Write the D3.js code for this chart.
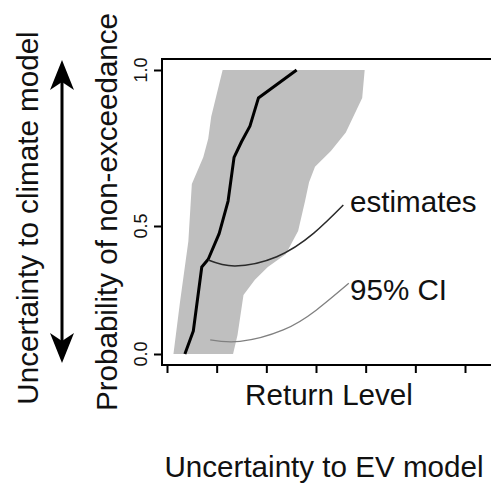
<!DOCTYPE html>
<html>
<head>
<meta charset="utf-8">
<script src="https://cdn.jsdelivr.net/npm/d3@7"></script>
<style>
  html, body { margin: 0; padding: 0; background: #fff; }
  svg { display: block; }
  text { font-family: "Liberation Sans", Arial, Helvetica, sans-serif; fill: #111; }
</style>
</head>
<body>
<svg id="chart" width="491" height="488"></svg>
<script>
// Return level (axis units) and probability of non-exceedance for the central estimate
const estLevel = [0.36, 0.53, 0.70, 0.83, 1.05, 1.23, 1.35, 1.50, 1.67, 1.84, 2.61];
const estProb  = [0.00, 0.09, 0.34, 0.37, 0.47, 0.58, 0.72, 0.77, 0.82, 0.91, 1.00];

// 95% confidence band: lower and upper bounds, each with its own probability levels
const lowLevel = [0.13, 0.26, 0.43, 0.50, 0.73, 0.83, 0.89, 1.12];
const lowProb  = [0.00, 0.20, 0.44, 0.635, 0.72, 0.78, 0.85, 1.00];
const upLevel  = [1.33, 1.42, 1.54, 1.77, 2.03, 2.39, 2.64, 2.78, 2.86, 2.98, 3.30, 3.60, 3.93, 3.98];
const upProb   = [0.00, 0.074, 0.23, 0.29, 0.34, 0.39, 0.48, 0.58, 0.64, 0.69, 0.74, 0.80, 0.91, 1.00];

// Axis ticks
const xTicks = [0, 1, 2, 3, 4, 5, 6];
const yTicks = [0, 0.5, 1];
const yTickLabels = ["0.0", "0.5", "1.0"];

// Leader lines for the two annotations
const estLeaderLevel = [0.83, 1.37, 2.21, 2.95, 3.55];
const estLeaderProb  = [0.367, 0.344, 0.38, 0.471, 0.567];
const ciLeaderLevel  = [0.87, 1.47, 2.34, 3.01, 3.66];
const ciLeaderProb   = [0.055, 0.049, 0.094, 0.172, 0.276];

const svg = d3.select("#chart");

const x = d3.scaleLinear().domain([0, 6]).range([167, 465]);
const y = d3.scaleLinear().domain([0, 0.5, 1]).range([354, 226, 70]);

const frame = { left: 162, top: 59, bottom: 365, right: 520 };
const FS = 29.6;

// Confidence band polygon: lower bound upward, then upper bound downward
const band = lowLevel.map((v, i) => [v, lowProb[i]])
  .concat(upLevel.map((v, i) => [v, upProb[i]]).reverse());
svg.append("path")
  .attr("d", d3.line().x(d => x(d[0])).y(d => y(d[1]))(band) + "Z")
  .attr("fill", "#bfbfbf")
  .attr("stroke", "none");

// Central estimate
svg.append("path")
  .attr("d", d3.line().x(d => x(d[0])).y(d => y(d[1]))(estLevel.map((v, i) => [v, estProb[i]])))
  .attr("fill", "none")
  .attr("stroke", "#000")
  .attr("stroke-width", 3)
  .attr("stroke-linejoin", "round");

// Leader lines
const leader = d3.line().x(d => x(d[0])).y(d => y(d[1])).curve(d3.curveNatural);
svg.append("path")
  .attr("d", leader(estLeaderLevel.map((v, i) => [v, estLeaderProb[i]])))
  .attr("fill", "none").attr("stroke", "#2a2a2a").attr("stroke-width", 1.5);
svg.append("path")
  .attr("d", leader(ciLeaderLevel.map((v, i) => [v, ciLeaderProb[i]])))
  .attr("fill", "none").attr("stroke", "#808080").attr("stroke-width", 1.3);

svg.append("text").attr("x", 350).attr("y", 212).attr("font-size", FS).text("estimates");
svg.append("text").attr("x", 350).attr("y", 300).attr("font-size", FS).text("95% CI");

// Plot frame (open to the right edge)
svg.append("path")
  .attr("d", `M${frame.right},${frame.top}H${frame.left}V${frame.bottom}H${frame.right}`)
  .attr("fill", "none").attr("stroke", "#000").attr("stroke-width", 2);

// X axis: ticks only
const xAxis = svg.append("g")
  .attr("transform", `translate(0,${frame.bottom})`)
  .call(d3.axisBottom(x).tickValues(xTicks).tickSize(8).tickFormat(""));
xAxis.select(".domain").remove();
xAxis.selectAll(".tick line").attr("stroke", "#000").attr("stroke-width", 2);

// Y axis: ticks with rotated labels
const yAxis = svg.append("g")
  .attr("transform", `translate(${frame.left},0)`)
  .call(d3.axisLeft(y).tickValues(yTicks).tickSize(8).tickFormat(""));
yAxis.select(".domain").remove();
yAxis.selectAll(".tick line").attr("stroke", "#000").attr("stroke-width", 2);
yTicks.forEach((t, i) => {
  svg.append("text")
    .attr("transform", `translate(147,${y(t)}) rotate(-90)`)
    .attr("text-anchor", "middle")
    .attr("font-size", 18)
    .text(yTickLabels[i]);
});

// Axis titles
svg.append("text").attr("x", 329).attr("y", 405).attr("text-anchor", "middle")
  .attr("font-size", FS).text("Return Level");
svg.append("text")
  .attr("transform", `translate(117,${(frame.top + frame.bottom) / 2}) rotate(-90)`)
  .attr("text-anchor", "middle").attr("font-size", FS).text("Probability of non-exceedance");

// Outer annotations
svg.append("text").attr("x", 324).attr("y", 477).attr("text-anchor", "middle")
  .attr("font-size", FS).text("Uncertainty to EV model");
svg.append("text")
  .attr("transform", `translate(38,218) rotate(-90)`)
  .attr("text-anchor", "middle").attr("font-size", FS).text("Uncertainty to climate model");

// Double-headed arrow
const ax = 62, aTop = 60, aBot = 363;
svg.append("line").attr("x1", ax).attr("x2", ax).attr("y1", aTop + 20).attr("y2", aBot - 20)
  .attr("stroke", "#000").attr("stroke-width", 3);
svg.append("path")
  .attr("d", `M${ax},${aTop}L${ax + 12},${aTop + 30}L${ax},${aTop + 22}L${ax - 12},${aTop + 30}Z`)
  .attr("fill", "#000");
svg.append("path")
  .attr("d", `M${ax},${aBot}L${ax + 12},${aBot - 30}L${ax},${aBot - 22}L${ax - 12},${aBot - 30}Z`)
  .attr("fill", "#000");
</script>
</body>
</html>
